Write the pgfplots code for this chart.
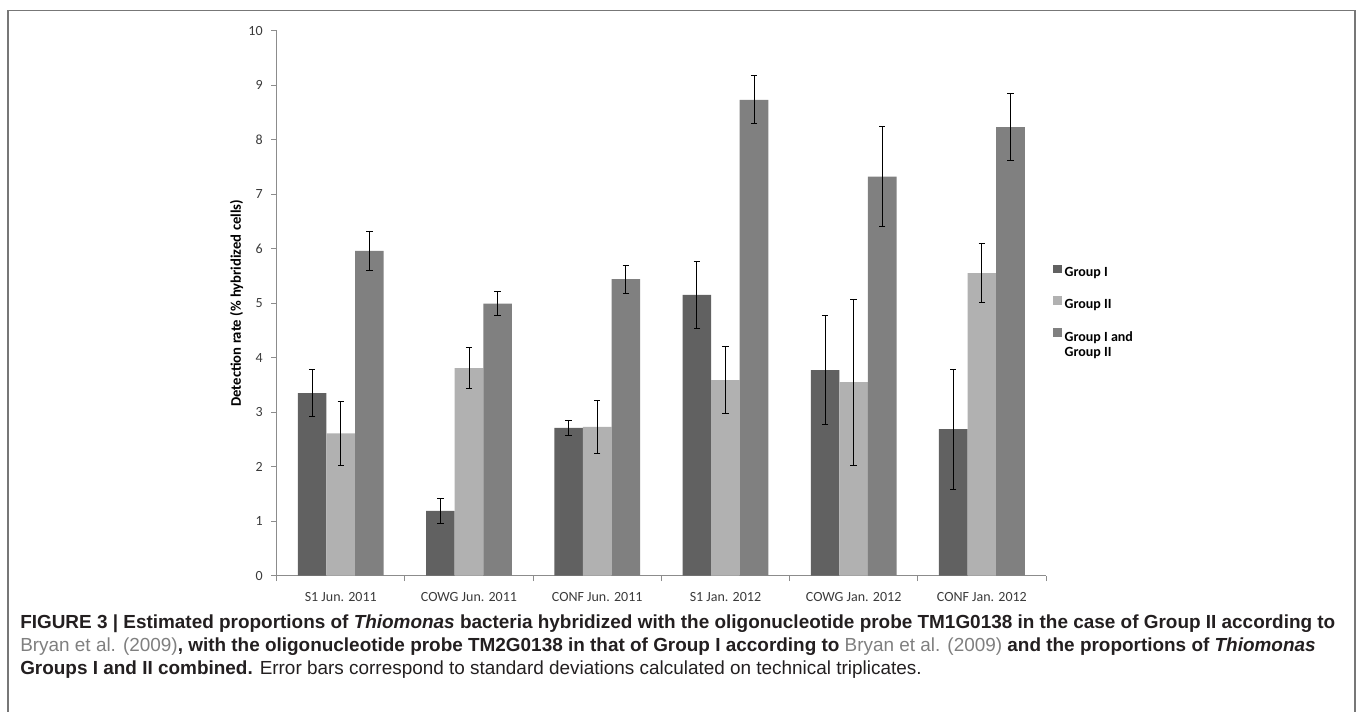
\documentclass[border=0pt]{standalone}
\usepackage{pgfplots}
\usepackage{pgfplotstable}
\pgfplotsset{compat=1.18}
\usepackage{fontspec}
\setmainfont{Liberation Sans}
\newfontfamily\calibri{Carlito}
\definecolor{gI}{HTML}{616161}
\definecolor{gII}{HTML}{B1B1B1}
\definecolor{gIII}{HTML}{808080}
\definecolor{axgray}{HTML}{8C8C8C}
\definecolor{framegray}{HTML}{777777}
\definecolor{captxt}{HTML}{231F20}
\definecolor{linkgray}{HTML}{7F7F7F}
\definecolor{ticktxt}{HTML}{3A3A3A}

\pgfplotstableread{
x g1 e1 g2 e2 g3 e3
0 3.35 0.43 2.61 0.585 5.96 0.365
1 1.19 0.23 3.81 0.37 4.99 0.22
2 2.71 0.13 2.73 0.48 5.44 0.255
3 5.15 0.62 3.59 0.615 8.73 0.44
4 3.77 1.00 3.55 1.52 7.32 0.915
5 2.69 1.10 5.55 0.545 8.23 0.615
}\datatable

\begin{document}
\begin{tikzpicture}
\useasboundingbox (0,0) rectangle (1020pt,533.25pt);
\draw[framegray, line width=1.1pt] (6pt,-1pt) -- (6pt,525.4pt) -- (1016.25pt,525.4pt) -- (1016.25pt,-1pt);
\begin{axis}[
  at={(207.5pt,101.5pt)}, anchor=south west,
  scale only axis, width=577pt, height=408.75pt,
  xmin=-0.5, xmax=5.5, ymin=0, ymax=10,
  ybar=0pt, bar width=21.45pt,
  axis x line*=bottom, axis y line*=left,
  axis line style={draw=axgray, line width=0.6pt, -},
  xtick={0,...,5},
  xticklabels={S1 Jun. 2011, COWG Jun. 2011, CONF Jun. 2011, S1 Jan. 2012, COWG Jan. 2012, CONF Jan. 2012},
  major x tick style={draw=none},
  minor xtick={-0.5,0.5,1.5,2.5,3.5,4.5,5.5},
  minor x tick style={draw=axgray, line width=0.6pt},
  minor tick length=4pt,
  ytick={0,...,10},
  major y tick style={draw=axgray, line width=0.6pt},
  major tick length=4pt,
  tick align=outside,
  /pgf/number format/assume math mode=true,
  ticklabel style={font=\calibri\fontsize{10.5}{12}\selectfont, text=ticktxt},
  xticklabel style={yshift=-5pt},
  yticklabel style={xshift=-3pt},
  ylabel={Detection rate (\% hybridized cells)},
  every axis y label/.style={at={(axis description cs:-0.052,0.5)}, rotate=90, anchor=center,
    font=\calibri\bfseries\fontsize{11}{12}\selectfont, text=black},
  legend style={draw=none, fill=none, at={(1.004,0.576)}, anchor=north west,
    font=\calibri\bfseries\fontsize{10.5}{12.6}\selectfont, row sep=13pt,
    legend cell align=left,
    nodes={inner xsep=2pt, inner ysep=0pt}},
  legend image code/.code={\fill[#1, draw=none] (0pt,0pt) rectangle (6.5pt,6.5pt);},
  error bars/y dir=both, error bars/y explicit,
  error bars/error bar style={black, line width=0.6pt},
  error bars/error mark options={rotate=90, mark size=2.4pt, black, line width=0.6pt},
]
\addplot[fill=gI, draw=none] table[x=x, y=g1, y error=e1] {\datatable};
\addplot[fill=gII, draw=none] table[x=x, y=g2, y error=e2] {\datatable};
\addplot[fill=gIII, draw=none] table[x=x, y=g3, y error=e3] {\datatable};
\legend{Group I, Group II, {\begin{tabular}[t]{@{}l@{}}Group I and\\[-1pt]Group II\end{tabular}}}
\end{axis}
\node[anchor=base west, align=left, inner sep=0pt, text=captxt,
  font=\fontsize{14.2}{17.25}\selectfont] at (15pt,27.75pt)
{\bfseries FIGURE 3 | Estimated proportions of \textit{Thiomonas} bacteria hybridized with the oligonucleotide probe TM1G0138 in the case of Group II according to\\
{\mdseries\color{linkgray}Bryan et al. (2009)}\bfseries, with the oligonucleotide probe TM2G0138 in that of Group I according to {\mdseries\color{linkgray}Bryan et al. (2009)} and the proportions of \textit{Thiomonas}\\
\bfseries Groups I and II combined. \mdseries Error bars correspond to standard deviations calculated on technical triplicates.};
\end{tikzpicture}
\end{document}
